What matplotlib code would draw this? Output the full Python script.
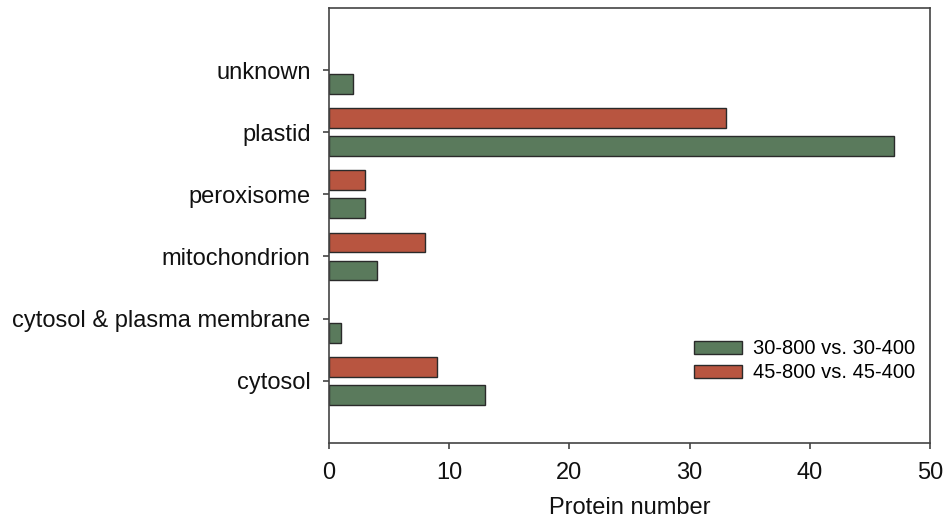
import numpy as np
import matplotlib.pyplot as plt

plt.rcParams['font.family'] = ['Liberation Sans', 'DejaVu Sans']

kategorie = ['cytosol', 'cytosol & plasma membrane', 'mitochondrion',
             'peroxisome', 'plastid', 'unknown']
zielone = [13, 1, 4, 3, 47, 2]   # 30-800 vs. 30-400
czerwone = [9, 0, 8, 3, 33, 0]   # 45-800 vs. 45-400
etykiety = ['30-800 vs. 30-400', '45-800 vs. 45-400']
x_ticki = [0, 10, 20, 30, 40, 50]

fig = plt.figure(figsize=(9.5, 5.26), dpi=100)
ax = fig.add_axes([0.346, 0.158, 0.633, 0.827])

y = np.arange(len(kategorie))
wys = 0.32
odstep = 0.225

# zerowe slupki bez obrysu, zeby nie bylo kreski
lw_z = [1.0 if v > 0 else 0 for v in zielone]
lw_c = [1.0 if v > 0 else 0 for v in czerwone]

ax.barh(y - odstep, zielone, height=wys, color='#5a7a5c', edgecolor='#2a2a2a',
        linewidth=lw_z, label=etykiety[0])
ax.barh(y + odstep, czerwone, height=wys, color='#b85540', edgecolor='#2a2a2a',
        linewidth=lw_c, label=etykiety[1])

ax.set_ylim(-1, 6)
ax.set_xlim(0, 50)
ax.set_yticks(y)
ax.set_yticklabels(kategorie)
ax.set_xticks(x_ticki)

for s in ax.spines.values():
    s.set_color('#444444')
    s.set_linewidth(1.2)

ax.tick_params(axis='both', labelsize=17, colors='#444444', labelcolor='#111111',
               length=4, width=1.2, direction='out')
ax.tick_params(axis='x', pad=10)
ax.tick_params(axis='y', pad=9)

ax.set_xlabel('Protein number', fontsize=17, labelpad=9, color='#111111')

ax.legend(loc='center left', bbox_to_anchor=(0.607, 0.1885), frameon=False,
          fontsize=14.5, borderpad=0, borderaxespad=0, handlelength=2.4,
          handleheight=0.6, handletextpad=0.55, labelspacing=0.25)

fig.savefig('out.png', dpi=100)
plt.close(fig)
